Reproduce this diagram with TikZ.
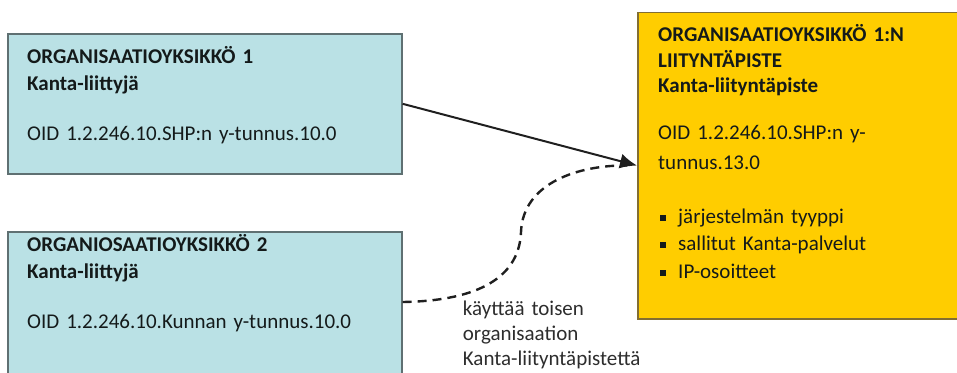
\documentclass[tikz,border=0pt]{standalone}
\usepackage{fontspec}
\setmainfont{Carlito}
\usetikzlibrary{arrows.meta}
\definecolor{bluefill}{RGB}{186,225,229}
\definecolor{blueedge}{RGB}{95,112,114}
\definecolor{yfill}{RGB}{255,205,0}
\definecolor{yedge}{RGB}{130,110,50}
\definecolor{txt}{RGB}{20,26,26}
\definecolor{lbl}{RGB}{45,45,45}
\newcommand{\sqbullet}{\makebox[18pt][l]{\rule[2.5pt]{6pt}{6pt}}}
\begin{document}
\begin{tikzpicture}[x=1pt,y=-1pt,
  boxb/.style={draw=blueedge, fill=bluefill, line width=1.6pt, anchor=north west, inner sep=0pt},
  boxy/.style={draw=yedge, fill=yfill, line width=1.6pt, anchor=north west, inner sep=0pt},
  boxtext/.style={anchor=base west, inner sep=0pt, text width=#1, align=left, text=txt},
  boxtext/.default=370pt,
  conn/.style={line width=2pt, draw=black!88},
  tip/.style={-{Latex[length=17pt,width=15pt]}}
]
\useasboundingbox (0,0) rectangle (957,372);
\node[boxb, minimum width=394pt, minimum height=140pt] (b1) at (7,33) {};
\node[boxb, minimum width=394pt, minimum height=170pt] (b2) at (7,231) {};
\node[boxy, minimum width=340pt, minimum height=306.5pt] (yb) at (637,11.5) {};
% texts box 1
\node[boxtext, font=\fontsize{21}{26.7}\selectfont] (t1) at (27,63.3)
  {\textbf{ORGANISAATIOYKSIKKÖ 1}\\\textbf{Kanta-liittyjä}\\[23.3pt]OID 1.2.246.10.SHP:n y-tunnus.10.0};
\node[boxtext, font=\fontsize{21}{26.7}\selectfont] (t2) at (27,251.7)
  {\textbf{ORGANIOSAATIOYKSIKKÖ 2}\\\textbf{Kanta-liittyjä}\\[23.3pt]OID 1.2.246.10.Kunnan y-tunnus.10.0};
% yellow box texts
\node[boxtext=290pt, font=\fontsize{21}{25.3}\selectfont] (y1) at (658,41.7)
  {\textbf{ORGANISAATIOYKSIKKÖ 1:N}\\\textbf{LIITYNTÄPISTE}\\\textbf{Kanta-liityntäpiste}};
\node[boxtext=290pt, font=\fontsize{21}{30.3}\selectfont] (y2) at (658,139)
  {OID 1.2.246.10.SHP:n y-\\tunnus.13.0};
\node[boxtext=290pt, font=\fontsize{21}{27.5}\selectfont] (y3) at (660,223.3)
  {\sqbullet järjestelmän tyyppi\\\sqbullet sallitut Kanta-palvelut\\\sqbullet IP-osoitteet};
% connectors
\draw[conn, tip] (b1.east) -- (yb.west);
\coordinate (d0) at (b2.east |- 0,302);
\draw[conn, line width=2.4pt, dash pattern=on 9pt off 6pt, shorten >=10pt]
  (d0) .. controls (470,301) and (519,282) .. (521,232)
       .. controls (523,182) and (580,165) .. (yb.west);
% label
\node[boxtext=200pt, font=\fontsize{21}{25}\selectfont, text=lbl] (lab) at (462.7,315)
  {käyttää toisen\\organisaation\\Kanta-liityntäpistettä};
\end{tikzpicture}
\end{document}
